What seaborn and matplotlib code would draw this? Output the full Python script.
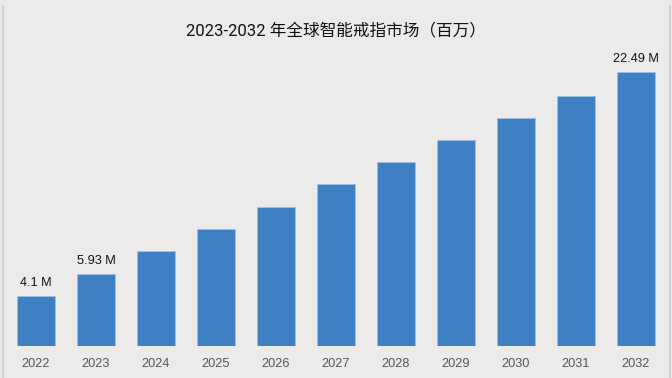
import matplotlib

matplotlib.use("Agg")

import matplotlib.pyplot as plt
import pandas as pd
import seaborn as sns
from matplotlib.lines import Line2D

years = ["2022", "2023", "2024", "2025", "2026", "2027", "2028", "2029", "2030", "2031", "2032"]
market = [4.1, 5.93, 7.79, 9.60, 11.41, 13.30, 15.11, 16.92, 18.73, 20.56, 22.49]
labelled = {"2022": "4.1 M", "2023": "5.93 M", "2032": "22.49 M"}
title = "2023-2032 年全球智能戒指市场（百万）"

BG = "#ecebea"
BAR = "#3f80c4"

sns.set_style("white")
plt.rcParams["font.family"] = ["Liberation Sans", "Noto Sans CJK SC", "DejaVu Sans"]

df = pd.DataFrame({"year": years, "value": market})

fig = plt.figure(figsize=(6.72, 3.78), dpi=100, facecolor=BG)
ax = fig.add_axes([0, 32.3 / 378, 1, 345.7 / 378])
ax.set_facecolor(BG)

sns.barplot(data=df, x="year", y="value", color=BAR, width=0.633,
            edgecolor="#9fc0e3", linewidth=0.6, saturation=1, ax=ax)

ax.set_xlim(-0.6, 10.6)
ax.set_ylim(0, 28.43)
for s in ax.spines.values():
    s.set_visible(False)
ax.set_yticks([])
ax.set_xlabel("")
ax.set_ylabel("")
ax.tick_params(axis="x", length=0, pad=9, labelsize=9.2, labelcolor="#555555")

for i, (y, v) in enumerate(zip(years, market)):
    if y in labelled:
        ax.annotate(labelled[y], (i, v), xytext=(0, 5), textcoords="offset points",
                    ha="center", va="bottom", fontsize=9.2, color="#111111")

fig.text(0.5, 1 - 30 / 378, title, ha="center", va="center", fontsize=12,
         color="#111111", family=["Roboto", "Noto Sans CJK SC", "DejaVu Sans"])

# soft card edges on the left and right only
for xpos in (2.5 / 672, 669.5 / 672):
    fig.add_artist(Line2D([xpos, xpos], [0, 0.985], transform=fig.transFigure,
                          color="#d2d2d2", linewidth=1.5))

fig.savefig("out.png", dpi=100, facecolor=BG)
